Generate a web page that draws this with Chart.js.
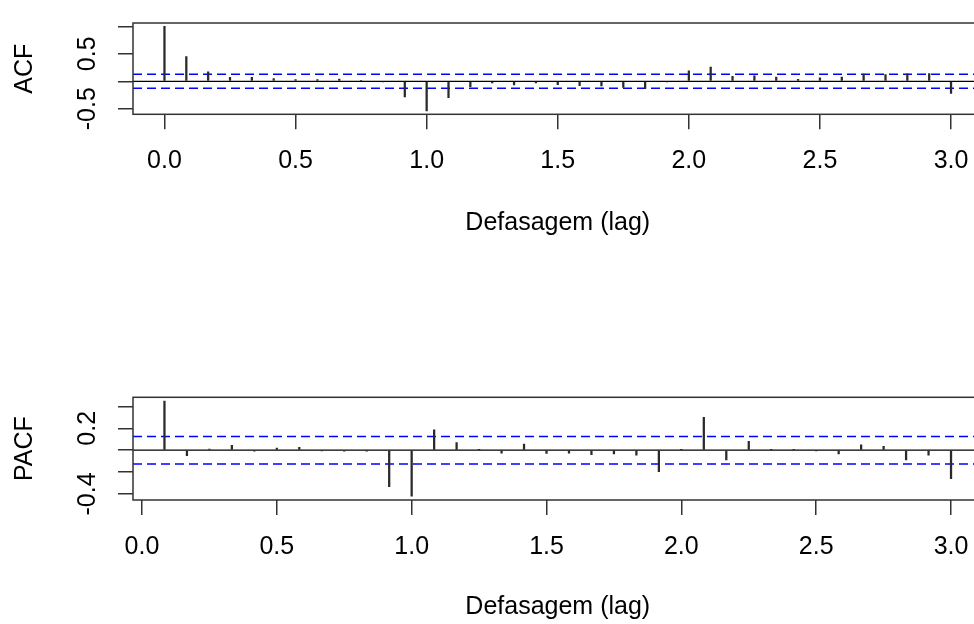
<!DOCTYPE html>
<html><head><meta charset="utf-8">
<script src="https://cdn.jsdelivr.net/npm/chart.js@4/dist/chart.umd.min.js"></script>
<style>
html,body{margin:0;padding:0;background:#fff;width:974px;height:624px;overflow:hidden;}
#wrap{position:relative;width:974px;height:624px;overflow:hidden;}
canvas{position:absolute;left:0;}
#c1{top:0;}
#c2{top:340px;}
</style></head><body>
<div id="wrap">
<canvas id="c1" width="1000" height="260"></canvas>
<canvas id="c2" width="1000" height="284"></canvas>
</div>
<script>
// ---- data (lags in months; frequency 12 -> lag in years) ----
const FREQ = 12;
const ACF_LAG_MONTHS = [0,1,2,3,4,5,6,7,8,9,10,11,12,13,14,15,16,17,18,19,20,21,22,23,24,25,26,27,28,29,30,31,32,33,34,35,36];
const ACF_VALUES = [1.0,0.45,0.17,0.074,0.07,0.05,0.03,0.03,0.04,0.01,-0.01,-0.285,-0.54,-0.30,-0.10,-0.03,-0.065,-0.03,-0.06,-0.08,-0.085,-0.11,-0.13,-0.01,0.19,0.26,0.09,0.10,0.075,0.037,0.065,0.075,0.13,0.12,0.135,0.14,-0.22];
const PACF_LAG_MONTHS = [1,2,3,4,5,6,7,8,9,10,11,12,13,14,15,16,17,18,19,20,21,22,23,24,25,26,27,28,29,30,31,32,33,34,35,36];
const PACF_VALUES = [0.448,-0.05,0.01,0.045,-0.01,0.02,0.025,-0.005,-0.01,-0.01,-0.333,-0.42,0.185,0.07,0.005,-0.027,0.055,-0.03,-0.027,-0.04,-0.035,-0.045,-0.197,0.005,0.30,-0.09,0.08,0.005,0.005,-0.005,-0.035,0.05,0.035,-0.09,-0.045,-0.26];
const CI_BOUND = 0.126;
const X_TICKS = [0,0.5,1,1.5,2,2.5,3];
const X_TICK_LABELS = ['0.0','0.5','1.0','1.5','2.0','2.5','3.0'];
const ACF_Y_TICKS = [-0.5,0,0.5,1];
const ACF_Y_LABELS = ['-0.5','','0.5',''];
const PACF_Y_TICKS = [-0.4,-0.2,0,0.2,0.4];
const PACF_Y_LABELS = ['-0.4','','','0.2',''];
const X_TITLE = 'Defasagem (lag)';

const FONT = {family:'"Liberation Sans", Arial, Helvetica, sans-serif', size:25};
const boxPlugin = {
  id:'rbox',
  afterDatasetsDraw(chart){
    const {ctx, chartArea:a} = chart;
    ctx.save();
    ctx.strokeStyle = '#333';
    ctx.lineWidth = 1.5;
    ctx.strokeRect(a.left, a.top, a.right-a.left, a.bottom-a.top);
    ctx.restore();
  }
};

function build(canvasId, cfg){
  const bars = cfg.lags.map((m,i)=>({x:m/FREQ, y:cfg.values[i]}));
  const hline = v => [{x:cfg.xmin, y:v},{x:cfg.xmax, y:v}];
  return new Chart(document.getElementById(canvasId), {
    type:'bar',
    data:{datasets:[
      {type:'line', data:hline(0), borderColor:'#000', borderWidth:1.3, pointRadius:0, order:3},
      {type:'line', data:hline(CI_BOUND), borderColor:'#0000ff', borderWidth:1.5, borderDash:[9,5], pointRadius:0, order:2},
      {type:'line', data:hline(-CI_BOUND), borderColor:'#0000ff', borderWidth:1.5, borderDash:[9,5], pointRadius:0, order:2},
      {type:'bar', data:bars, backgroundColor:'#2a2a2a', barThickness:1.6, borderWidth:0, order:1}
    ]},
    options:{
      responsive:false, animation:false, devicePixelRatio:1,
      layout:{padding:{top:cfg.padTop, right:17.5, left:0, bottom:0}},
      plugins:{legend:{display:false}, tooltip:{enabled:false}},
      scales:{
        x:{type:'linear', min:cfg.xmin, max:cfg.xmax, offset:false,
          afterBuildTicks:s=>{s.ticks = X_TICKS.map(v=>({value:v}));},
          afterFit:s=>{s.height = cfg.xh;},
          grid:{offset:false, drawOnChartArea:false, drawTicks:true, tickLength:15, color:'#333', lineWidth:1.5},
          border:{display:false},
          ticks:{font:FONT, color:'#000', padding:17, maxRotation:0, minRotation:0, autoSkip:false,
            callback:(v,i)=>X_TICK_LABELS[i]},
          title:{display:true, text:X_TITLE, font:FONT, color:'#000', padding:{top:0, bottom:cfg.titlePad}}
        },
        y:{min:cfg.ymin, max:cfg.ymax,
          afterBuildTicks:s=>{s.ticks = cfg.yticks.map(v=>({value:v}));},
          afterFit:s=>{s.width = 133;},
          grid:{offset:false, drawOnChartArea:false, drawTicks:true, tickLength:15, color:'#333', lineWidth:1.5},
          border:{display:false},
          ticks:{font:FONT, color:'#000', padding:8, minRotation:90, maxRotation:90, crossAlign:'center', autoSkip:false,
            callback:(v,i)=>cfg.ylabels[i]},
          title:{display:true, text:cfg.ytitle, font:FONT, color:'#000', padding:{top:10, bottom:0}}
        }
      }
    },
    plugins:[boxPlugin]
  });
}

build('c1', {lags:ACF_LAG_MONTHS, values:ACF_VALUES, xmin:-0.12, xmax:3.12, ymin:-0.6016, ymax:1.0616,
  yticks:ACF_Y_TICKS, ylabels:ACF_Y_LABELS, ytitle:'ACF', padTop:11.5, xh:145.7, titlePad:22.3});
build('c2', {lags:PACF_LAG_MONTHS, values:PACF_VALUES, xmin:-0.0333, xmax:3.1167, ymin:-0.4547, ymax:0.4827,
  yticks:PACF_Y_TICKS, ylabels:PACF_Y_LABELS, ytitle:'PACF', padTop:57.3, xh:124, titlePad:1.5});
</script>
</body></html>
